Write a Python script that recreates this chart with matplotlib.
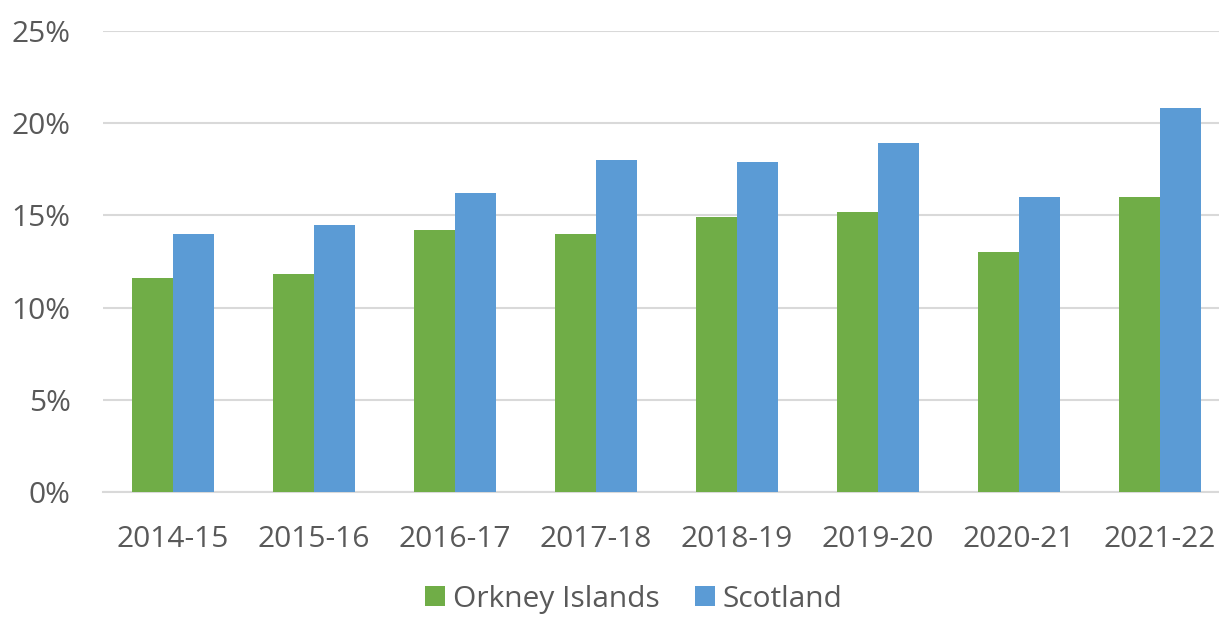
import numpy as np
import matplotlib.pyplot as plt
from matplotlib.ticker import FuncFormatter

years = ['2014-15', '2015-16', '2016-17', '2017-18',
         '2018-19', '2019-20', '2020-21', '2021-22']
orkney = [11.6, 11.8, 14.2, 14.0, 14.9, 15.2, 13.0, 16.0]
scotland = [14.0, 14.5, 16.2, 18.0, 17.9, 18.9, 16.0, 20.8]

plt.rcParams['font.family'] = ['Open Sans', 'DejaVu Sans']
text_col = '#595959'

fig = plt.figure(figsize=(12.19, 6.17), dpi=100)
# axes run a little past the right edge, like the original chart
ax = fig.add_axes([0.0841, 0.2026, 0.9254, 0.7472])

x = np.arange(len(years))
w = 0.29
ax.bar(x - w / 2, orkney, w, color='#70AD47', label='Orkney Islands', zorder=3)
ax.bar(x + w / 2, scotland, w, color='#5B9BD5', label='Scotland', zorder=3)

ax.set_xlim(-0.5, len(years) - 0.5)
ax.set_ylim(0, 25)
ax.set_yticks(np.arange(0, 26, 5))
ax.yaxis.set_major_formatter(FuncFormatter(lambda v, p: f'{v:.0f}%'))
ax.set_xticks(x)
ax.set_xticklabels(years)
ax.grid(axis='y', color='#D9D9D9', linewidth=1.5, zorder=0)
for s in ['top', 'right', 'left']:
    ax.spines[s].set_visible(False)
ax.spines['bottom'].set_color('#D9D9D9')
ax.spines['bottom'].set_linewidth(1.5)
ax.tick_params(axis='both', length=0, labelsize=21.5, colors=text_col)
ax.tick_params(axis='x', pad=24)
ax.tick_params(axis='y', pad=23)

leg = fig.legend(loc='lower center', bbox_to_anchor=(0.52, -0.038), ncol=2,
                 frameon=False, fontsize=21.5, handlelength=0.65, handleheight=0.65,
                 handletextpad=0.27, columnspacing=1.2)
for t in leg.get_texts():
    t.set_color(text_col)

fig.savefig('out.png', dpi=100)
